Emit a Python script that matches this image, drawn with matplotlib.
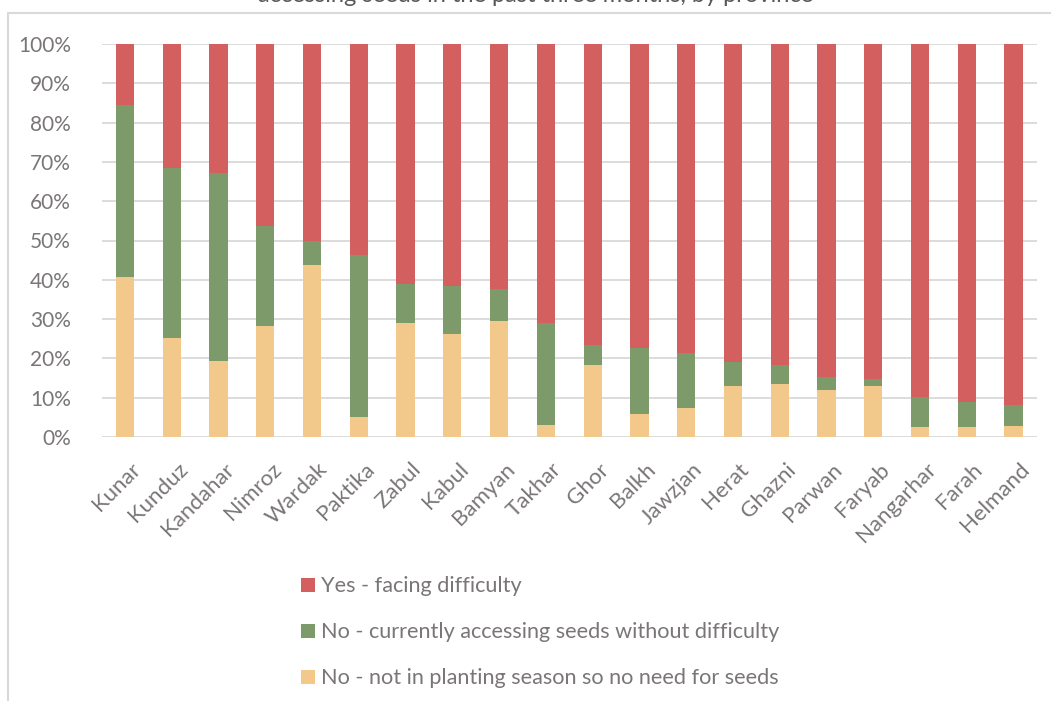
import matplotlib.pyplot as plt
from matplotlib.patches import Rectangle
from matplotlib.transforms import ScaledTranslation
import numpy as np

plt.rcParams['font.family'] = ['Lato', 'DejaVu Sans']

provinces = ['Kunar', 'Kunduz', 'Kandahar', 'Nimroz', 'Wardak', 'Paktika', 'Zabul',
             'Kabul', 'Bamyan', 'Takhar', 'Ghor', 'Balkh', 'Jawzjan', 'Herat',
             'Ghazni', 'Parwan', 'Faryab', 'Nangarhar', 'Farah', 'Helmand']
# cumulative shares (%)
not_season = [40.8, 25.2, 19.4, 28.3, 43.8, 5.0, 28.9, 26.3, 29.4, 3.1,
              18.4, 5.8, 7.4, 13.0, 13.5, 11.9, 12.9, 2.5, 2.5, 2.8]
no_diff_top = [84.5, 68.4, 67.2, 53.8, 49.9, 46.4, 39.0, 38.5, 37.6, 28.9,
               23.4, 22.7, 21.3, 19.0, 18.4, 15.3, 14.7, 10.3, 8.9, 8.1]

not_season = np.array(not_season) / 100
no_diff = np.array(no_diff_top) / 100 - not_season
yes_diff = 1 - not_season - no_diff

labels = ['Yes - facing difficulty',
          'No - currently accessing seeds without difficulty',
          'No - not in planting season so no need for seeds']
red, green, yellow = '#D45F5F', '#7D9B6A', '#F3C88B'
text_grey = '#7A7676'

fig = plt.figure(figsize=(10.51, 7.01), dpi=100)
ax = fig.add_axes([101.6 / 1051, 1 - 437 / 701, (1037 - 101.6) / 1051, (437 - 44) / 701])

x = np.arange(len(provinces))
w = 0.39
b1 = ax.bar(x, not_season, w, color=yellow, zorder=3)
b2 = ax.bar(x, no_diff, w, bottom=not_season, color=green, zorder=3)
b3 = ax.bar(x, yes_diff, w, bottom=not_season + no_diff, color=red, zorder=3)

ax.set_xlim(-0.5, len(provinces) - 0.5)
ax.set_ylim(0, 1)
ax.set_yticks(np.arange(0, 1.01, 0.1))
ax.set_yticklabels([f'{int(round(v * 100))}%' for v in np.arange(0, 1.01, 0.1)])
ax.grid(axis='y', color='#D9D9D9', linewidth=1.3, zorder=0)
for s in ax.spines.values():
    s.set_visible(False)
ax.tick_params(axis='y', length=0, pad=22, labelsize=15, labelcolor=text_grey)
ax.tick_params(axis='x', length=0, pad=16, labelsize=16, labelcolor=text_grey)
ax.set_xticks(x)
ax.set_xticklabels(provinces, rotation=45, ha='right', va='top', rotation_mode='anchor')
shift = ScaledTranslation(4 / 72, 0, fig.dpi_scale_trans)
for lab in ax.get_xticklabels():
    lab.set_transform(lab.get_transform() + shift)

fig.legend([b3, b2, b1], labels, loc='upper left', bbox_to_anchor=(281 / 1051, 1 - 557 / 701),
           frameon=False, fontsize=15.6, labelcolor=text_grey, handlelength=0.65,
           handleheight=0.65, handletextpad=0.3, labelspacing=1.2)

# outer chart frame and clipped title
fig.add_artist(Rectangle((8 / 1051, -0.1), 1.2, 1.1 - 13 / 701, transform=fig.transFigure,
                         fill=False, edgecolor='#D9D9D9', linewidth=1.5))
fig.text(0.51, 1 - 2.5 / 701, 'accessing seeds in the past three months, by province',
         ha='center', va='baseline', fontsize=17, color='#595959')

fig.savefig('out.png', dpi=100)
